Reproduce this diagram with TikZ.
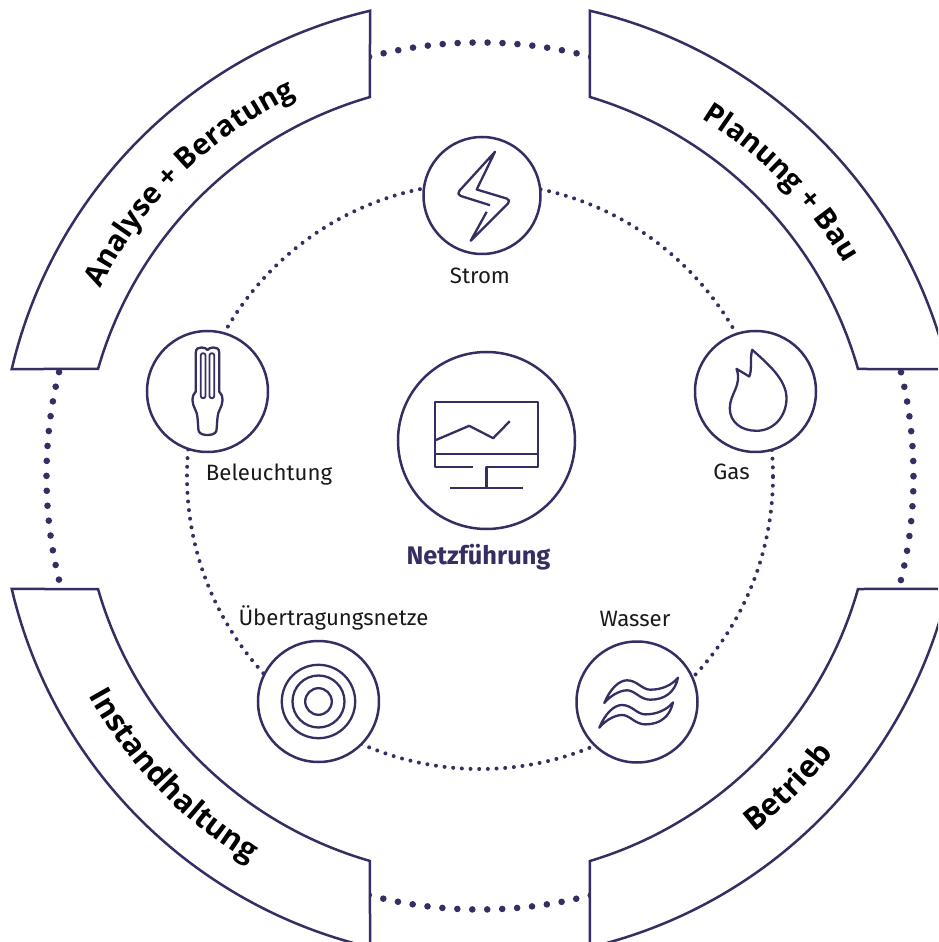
\documentclass[tikz,border=0pt]{standalone}
\usepackage{fontspec}
\setmainfont{Fira Sans}
\newfontfamily\arcfont{Open Sans}
\usetikzlibrary{decorations.text}
\definecolor{ringblue}{HTML}{352E63}
\tikzset{
  ringline/.style={draw=ringblue,line width=2.5pt,fill=white},
  iconline/.style={draw=ringblue,line width=2.3pt,line join=round},
  thinicon/.style={draw=ringblue,line width=1.8pt,line join=round},
  dotsouter/.style={draw=ringblue,line width=6.6pt,line cap=round,dash pattern=on 0pt off 14.966pt},
  dotsinner/.style={draw=ringblue,line width=4pt,line cap=round,dash pattern=on 0pt off 8.68pt},
  iconcircle/.style={circle,ringline,inner sep=0pt,minimum size=121pt},
  iconlabel/.style={anchor=base,text=black!90,font=\fontsize{22.2}{26}\selectfont},
  arclabel/.style n args={2}{decorate,decoration={text along path,text align=center,text color=black,
    text={|\arcfont\bfseries\fontsize{#1}{34}\selectfont|#2}}}
}
\begin{document}
\begin{tikzpicture}[x=1pt,y=1pt]
      \useasboundingbox (-480,-466) rectangle (458,476);
      \clip (-480,-466) rectangle (458,476);

      \draw[dotsouter] (0,0) circle (433.5);
      \draw[dotsinner] (0,0) circle (293);

      \begin{scope}[shift={(0,-3)}]
        \foreach \rot in {0,90}
          \draw[ringline,rotate=\rot] (103.22:481) arc[start angle=103.22,end angle=166.78,radius=481]
            -- (163.93:397.5) arc[start angle=163.93,end angle=106.07,radius=397.5] -- cycle;
        \foreach \flip in {1,-1}
          \draw[ringline,yscale=\flip] (76.78:481) arc[start angle=76.78,end angle=13.22,radius=481]
            -- (378,110) arc[start angle=15.87,end angle=73.3,radius=397.5] -- cycle;
        \path[arclabel={29}{Analyse + Beratung}] (165:425) arc[start angle=165,end angle=104,radius=425];
        \path[arclabel={29}{Planung + Bau}] (74.5:423) arc[start angle=74.5,end angle=14.5,radius=423];
        \path[arclabel={30.5}{Instandhaltung}] (194:447) arc[start angle=194,end angle=254,radius=447];
        \path[arclabel={30.5}{Betrieb}] (285:447) arc[start angle=285,end angle=345,radius=447];
      \end{scope}

      \node[iconcircle,minimum size=117pt] (strom) at (2,280.5) {};
      \node[iconcircle] (licht) at (-272.5,84.5) {};
      \node[iconcircle] (gas) at (275.5,84.5) {};
      \node[iconcircle,minimum size=177pt] (netz) at (6.5,35.5) {};
      \node[iconcircle] (wasser) at (157,-226) {};
      \node[iconcircle] (trafo) at (-161.5,-225.5) {};

      \node[iconlabel] (stromtext) at (0,192.5) {Strom};
      \node[iconlabel] (lichttext) at (-211,-4.5) {Beleuchtung};
      \node[iconlabel] (gastext) at (251.5,-3.5) {Gas};
      \node[iconlabel] (trafotext) at (-146.5,-149.5) {Übertragungsnetze};
      \node[iconlabel] (wassertext) at (155,-150) {Wasser};
      \node[anchor=base,text=ringblue,font=\bfseries\fontsize{25.4}{30}\selectfont] (netztext) at (-1.5,-88.5) {Netzführung};

      \begin{scope}[shift={(strom.center)}]
        \draw[iconline] (8,-9.7) [rounded corners=5pt] -- (-26,1) [sharp corners] -- (13,43.7) -- (-5.3,6)
          [rounded corners=5pt] -- (29.5,-4.5) [sharp corners] -- (-11.3,-45.3) -- (4.7,-16.3);
      \end{scope}

      \begin{scope}[shift={(licht.center)}]
        \draw[iconline] (-11.7,0) -- (-11.7,39) .. controls (-11.7,43) and (-9,44) .. (-6,44)
          .. controls (-3,44) and (-1,43) .. (0,41.5) .. controls (1,43) and (3,44) .. (6,44)
          .. controls (9,44) and (11.7,43) .. (11.7,39) -- (11.7,0)
          .. controls (14,-2) and (15,-5) .. (15,-9) .. controls (15,-15) and (10,-20) .. (10,-26)
          -- (9,-39) .. controls (8,-43) and (3,-43.5) .. (0,-43.5)
          .. controls (-3,-43.5) and (-8,-43) .. (-9,-39) -- (-10,-26)
          .. controls (-10,-20) and (-15,-15) .. (-15,-9) .. controls (-15,-5) and (-14,-2) .. cycle;
        \draw[thinicon,rounded corners=2.2pt] (-6.7,-6.7) rectangle (-2,38.3);
        \draw[thinicon,rounded corners=2.2pt] (2,-6.7) rectangle (6.7,38.3);
      \end{scope}

      \begin{scope}[shift={(gas.center)}]
        \draw[iconline] (-3.3,41.7) .. controls (12,28) and (31,12) .. (31,-6.7)
          .. controls (31,-25) and (18,-39.3) .. (1,-39.3)
          .. controls (-14,-39.3) and (-25.7,-31) .. (-25.7,-16.7)
          .. controls (-25.7,-2) and (-13,6) .. (-19,22.7)
          -- (-6.3,15) .. controls (-3,22) and (-6,32) .. cycle;
      \end{scope}

      \begin{scope}[shift={(netz.center)}]
        \draw[iconline] (-13.3,-26.7) -- (-51.7,-26.7) -- (-51.7,38.3) -- (51.7,38.3) -- (51.7,-26.7) -- (0,-26.7) -- (0,-47.7);
        \draw[iconline] (-36.3,-47.7) -- (36.7,-47.7);
        \draw[iconline] (-51.7,-13.7) -- (51.7,-13.7);
        \draw[iconline] (-51.7,0) -- (-17.3,14.7) -- (6.7,2.3) -- (23.3,19.3);
      \end{scope}

      \begin{scope}[shift={(wasser.center)}]
        \foreach \dx/\dy in {0/0,-5/-24.7}
          \draw[iconline,shift={(\dx,\dy)}] (-32.7,-1) .. controls (-27,13) and (-18,21.7) .. (-10,21.7)
            .. controls (0,21.7) and (5,12.3) .. (13.3,12.3) .. controls (25,12.3) and (35,17) .. (41,24.3)
            .. controls (38,10) and (28,2.3) .. (13.3,2.3) .. controls (3,2.3) and (-2,11.7) .. (-10,11.7)
            .. controls (-18,11.7) and (-28,5) .. cycle;
      \end{scope}

      \begin{scope}[shift={(trafo.center)}]
        \foreach \rad in {36.7,26,13.3}
          \draw[iconline] (0,0) circle (\rad);
      \end{scope}
\end{tikzpicture}
\end{document}
